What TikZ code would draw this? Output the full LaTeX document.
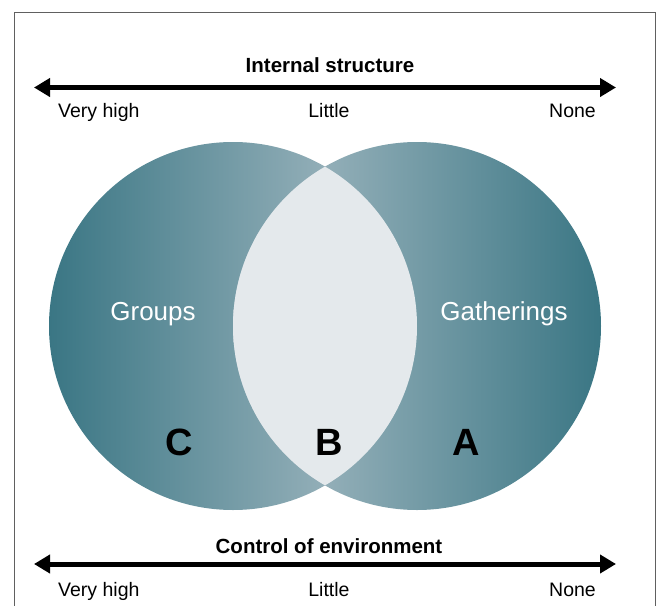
\documentclass[tikz,border=0pt]{standalone}
\usepackage{fontspec}
\setmainfont{Liberation Sans}
\usetikzlibrary{arrows.meta}
\definecolor{tealdark}{HTML}{3A7684}
\definecolor{teallight}{HTML}{B0C1C9}
\definecolor{lensgray}{HTML}{E4E9EC}
\definecolor{framegray}{HTML}{606060}
\tikzset{
  axisarrow/.style={line width=5pt, {Triangle[length=16pt,width=18pt]}-{Triangle[length=16pt,width=18pt]}},
  scalelabel/.style={font=\fontsize{19.5}{22}\selectfont, inner sep=0pt, text=black},
  axistitle/.style={font=\fontsize{20.5}{23}\selectfont\bfseries, inner sep=0pt, anchor=base},
  setlabel/.style={font=\fontsize{26}{30}\selectfont, text=white, inner sep=0pt, anchor=base},
  region/.style={font=\fontsize{38}{42}\selectfont\bfseries, inner sep=0pt, anchor=base},
}
\begin{document}
\begin{tikzpicture}[x=1pt,y=-1pt]
\useasboundingbox (0,0) rectangle (657,606);
\fill[white] (0,0) rectangle (657,606);
% frame
\draw[framegray, line width=1pt] (14,606) -- (14,12) -- (655,12) -- (655,606);
% circles
\shade[left color=tealdark, right color=teallight] (233,326) circle (184);
\shade[left color=teallight, right color=tealdark] (417,326) circle (184);
\begin{scope}
  \clip (233,326) circle (184);
  \fill[lensgray] (417,326) circle (184);
\end{scope}
% top axis
\coordinate (tl) at (34,87.5);
\coordinate (tr) at (616,87.5);
\draw[axisarrow] (tl) -- (tr);
\node[axistitle] (ttitle) at (330,72.5) {Internal structure};
\node[scalelabel, anchor=base west] (tvh) at (58,117) {Very high};
\node[scalelabel, anchor=base] (tlit) at (329,117) {Little};
\node[scalelabel, anchor=base east] (tnone) at (596,117) {None};
% bottom axis
\coordinate (bl) at (34,564);
\coordinate (br) at (616,564);
\draw[axisarrow] (bl) -- (br);
\node[axistitle] (btitle) at (329,553) {Control of environment};
\node[scalelabel, anchor=base west] (bvh) at (58,596.5) {Very high};
\node[scalelabel, anchor=base] (blit) at (329,596.5) {Little};
\node[scalelabel, anchor=base east] (bnone) at (596,596.5) {None};
% set labels
\node[setlabel] (groups) at (153,320) {Groups};
\node[setlabel] (gath) at (504,320) {Gatherings};
\node[region] (C) at (179,455) {C};
\node[region] (B) at (329,455) {B};
\node[region] (A) at (466,455) {A};
\end{tikzpicture}
\end{document}
